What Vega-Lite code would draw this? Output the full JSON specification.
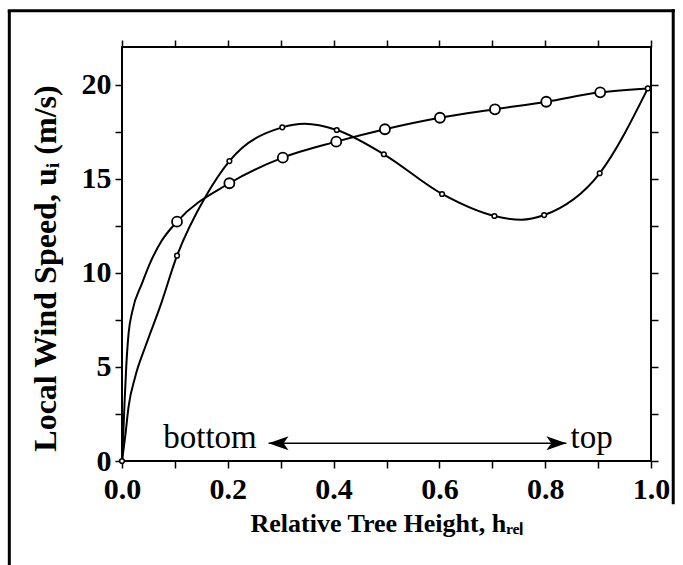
{
  "$schema": "https://vega.github.io/schema/vega-lite/v6.json",
  "width": 529,
  "height": 414,
  "autosize": "none",
  "padding": {"left": 122, "top": 47, "right": 32, "bottom": 104},
  "background": "white",
  "datasets": {
    "curves": [
      {"s": "A", "h": 0, "u": 0, "m": 0},
      {"s": "A", "h": 0.0025, "u": 1.5, "m": 0},
      {"s": "A", "h": 0.005, "u": 3.2, "m": 0},
      {"s": "A", "h": 0.008, "u": 5.0, "m": 0},
      {"s": "A", "h": 0.0125, "u": 6.8, "m": 0},
      {"s": "A", "h": 0.019, "u": 7.9, "m": 0},
      {"s": "A", "h": 0.038, "u": 9.45, "m": 0},
      {"s": "A", "h": 0.056, "u": 10.7, "m": 0},
      {"s": "A", "h": 0.075, "u": 11.7, "m": 0},
      {"s": "A", "h": 0.104, "u": 12.72, "m": 1},
      {"s": "A", "h": 0.203, "u": 14.76, "m": 1},
      {"s": "A", "h": 0.304, "u": 16.12, "m": 1},
      {"s": "A", "h": 0.405, "u": 16.97, "m": 1},
      {"s": "A", "h": 0.497, "u": 17.63, "m": 1},
      {"s": "A", "h": 0.601, "u": 18.24, "m": 1},
      {"s": "A", "h": 0.705, "u": 18.69, "m": 1},
      {"s": "A", "h": 0.802, "u": 19.09, "m": 1},
      {"s": "A", "h": 0.904, "u": 19.59, "m": 1},
      {"s": "A", "h": 0.994, "u": 19.8, "m": 0},
      {"s": "B", "h": 0, "u": 0, "m": 1},
      {"s": "B", "h": 0.006, "u": 1.3, "m": 0},
      {"s": "B", "h": 0.0125, "u": 2.9, "m": 0},
      {"s": "B", "h": 0.025, "u": 4.48, "m": 0},
      {"s": "B", "h": 0.044, "u": 6.07, "m": 0},
      {"s": "B", "h": 0.072, "u": 8.2, "m": 0},
      {"s": "B", "h": 0.104, "u": 10.91, "m": 1},
      {"s": "B", "h": 0.16, "u": 14.15, "m": 0},
      {"s": "B", "h": 0.203, "u": 15.94, "m": 1},
      {"s": "B", "h": 0.303, "u": 17.73, "m": 1},
      {"s": "B", "h": 0.345, "u": 17.92, "m": 0},
      {"s": "B", "h": 0.406, "u": 17.59, "m": 1},
      {"s": "B", "h": 0.495, "u": 16.3, "m": 1},
      {"s": "B", "h": 0.605, "u": 14.19, "m": 1},
      {"s": "B", "h": 0.704, "u": 13.02, "m": 1},
      {"s": "B", "h": 0.755, "u": 12.82, "m": 0},
      {"s": "B", "h": 0.798, "u": 13.07, "m": 1},
      {"s": "B", "h": 0.903, "u": 15.29, "m": 1},
      {"s": "B", "h": 0.994, "u": 19.8, "m": 1}
    ],
    "arrow": [{"h": 0.277, "h2": 0.84, "u": 0.94}],
    "notes": [
      {"label": "bottom", "h": 0.078, "u": 0.69},
      {"label": "top", "h": 0.848, "u": 0.69}
    ]
  },
  "layer": [
    {
      "data": {"values": [{}]},
      "mark": {"type": "rule", "color": "black", "strokeWidth": 3},
      "encoding": {
        "x": {"datum": -0.213, "type": "quantitative", "axis": null},
        "y": {"datum": 23.93, "type": "quantitative", "axis": null},
        "y2": {"datum": -7}
      }
    },
    {
      "data": {"values": [{}]},
      "mark": {"type": "rule", "color": "black", "strokeWidth": 3},
      "encoding": {
        "x": {"datum": -0.216, "type": "quantitative", "axis": null},
        "x2": {"datum": 1.045},
        "y": {"datum": 23.93, "type": "quantitative", "axis": null}
      }
    },
    {
      "data": {"values": [{}]},
      "mark": {"type": "rule", "color": "black", "strokeWidth": 3},
      "encoding": {
        "x": {"datum": 1.042, "type": "quantitative", "axis": null},
        "y": {"datum": 24.0, "type": "quantitative", "axis": null},
        "y2": {"datum": -2.3}
      }
    },
    {
      "data": {"name": "curves"},
      "mark": {"type": "line", "interpolate": "monotone", "color": "black", "strokeWidth": 2},
      "encoding": {
        "x": {
          "field": "h", "type": "quantitative",
          "scale": {"domain": [0, 1], "nice": false, "zero": false},
          "axis": {
            "orient": "bottom",
            "values": [0, 0.1, 0.2, 0.3, 0.4, 0.5, 0.6, 0.7, 0.8, 0.9, 1.0],
            "labelExpr": "round(datum.value*10)%2==0 ? format(datum.value,'.1f') : ''",
            "labelFlush": false,
            "labelOverlap": false,
            "labelPadding": 6,
            "title": "Relative Tree Height, hᵣₑₗ",
            "titleFontSize": 26,
            "titleY": 49,
            "titleBaseline": "top"
          }
        },
        "y": {
          "field": "u", "type": "quantitative",
          "scale": {"domain": [0, 22], "nice": false},
          "axis": {
            "orient": "left",
            "values": [0, 2.5, 5, 7.5, 10, 12.5, 15, 17.5, 20],
            "labelExpr": "datum.value%5==0 ? datum.value : ''",
            "labelOverlap": false,
            "labelFlush": false,
            "labelPadding": 4,
            "labelBaseline": "alphabetic",
            "labelOffset": 9,
            "title": "Local Wind Speed, uᵢ (m/s)",
            "titleFontSize": 32,
            "titleX": -60,
            "titleY": 221
          }
        },
        "detail": {"field": "s"}
      }
    },
    {
      "data": {"name": "curves"},
      "transform": [{"filter": "datum.m == 1 && datum.s == 'B'"}],
      "mark": {"type": "circle", "fill": "white", "stroke": "black", "strokeWidth": 1.5, "size": 22, "opacity": 1},
      "encoding": {
        "x": {
          "field": "h", "type": "quantitative",
          "axis": {
            "orient": "top",
            "values": [0, 0.1, 0.2, 0.3, 0.4, 0.5, 0.6, 0.7, 0.8, 0.9, 1.0],
            "labels": false,
            "title": null
          }
        },
        "y": {
          "field": "u", "type": "quantitative",
          "axis": {
            "orient": "right",
            "values": [0, 2.5, 5, 7.5, 10, 12.5, 15, 17.5, 20],
            "labels": false,
            "title": null
          }
        }
      }
    },
    {
      "data": {"name": "curves"},
      "transform": [{"filter": "datum.m == 1 && datum.s == 'A'"}],
      "mark": {"type": "circle", "fill": "white", "stroke": "black", "strokeWidth": 1.8, "size": 100, "opacity": 1},
      "encoding": {
        "x": {"field": "h", "type": "quantitative", "axis": null},
        "y": {"field": "u", "type": "quantitative", "axis": null}
      }
    },
    {
      "data": {"name": "arrow"},
      "mark": {"type": "rule", "color": "black", "strokeWidth": 1.5},
      "encoding": {
        "x": {"field": "h", "type": "quantitative", "axis": null},
        "x2": {"field": "h2"},
        "y": {"field": "u", "type": "quantitative", "axis": null}
      }
    },
    {
      "data": {"name": "arrow"},
      "mark": {"type": "point", "shape": "M0,0 L2,-0.7 L1.5,0 L2,0.7 Z", "filled": true, "color": "black", "size": 400, "opacity": 1, "strokeWidth": 0},
      "encoding": {
        "x": {"field": "h", "type": "quantitative", "axis": null},
        "y": {"field": "u", "type": "quantitative", "axis": null}
      }
    },
    {
      "data": {"name": "arrow"},
      "mark": {"type": "point", "shape": "M0,0 L-2,-0.7 L-1.5,0 L-2,0.7 Z", "filled": true, "color": "black", "size": 400, "opacity": 1, "strokeWidth": 0},
      "encoding": {
        "x": {"field": "h2", "type": "quantitative", "axis": null},
        "y": {"field": "u", "type": "quantitative", "axis": null}
      }
    },
    {
      "data": {"name": "notes"},
      "mark": {"type": "text", "font": "Liberation Serif", "fontSize": 33, "align": "left", "baseline": "alphabetic", "color": "black"},
      "encoding": {
        "x": {"field": "h", "type": "quantitative", "axis": null},
        "y": {"field": "u", "type": "quantitative", "axis": null},
        "text": {"field": "label"}
      }
    }
  ],
  "resolve": {"axis": {"x": "independent", "y": "independent"}},
  "config": {
    "view": {"stroke": "black", "strokeWidth": 2},
    "axis": {
      "domain": false,
      "grid": false,
      "ticks": true,
      "tickColor": "black",
      "tickWidth": 1.5,
      "tickSize": 7,
      "labelFont": "Liberation Serif",
      "labelFontWeight": "bold",
      "labelFontSize": 30,
      "labelColor": "black",
      "titleFont": "Liberation Serif",
      "titleFontWeight": "bold",
      "titleColor": "black"
    }
  }
}
